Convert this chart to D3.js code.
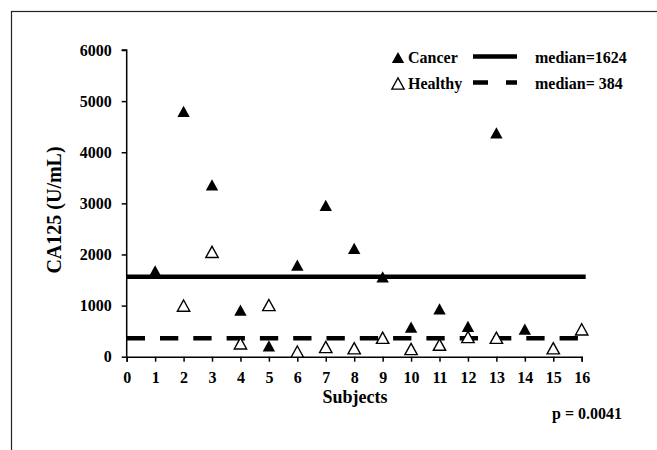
<html>
<head>
<meta charset="utf-8">
<style>
  body { margin: 0; background: white; }
  svg text { font-family: "Liberation Serif", "Times New Roman", serif; font-weight: bold; fill: black; }
</style>
<script src="https://cdn.jsdelivr.net/npm/d3@7"></script>
</head>
<body>
<svg id="chart"></svg>
<script>
// subjects and CA125 values (U/mL)
let cancerSubjects = [1, 2, 3, 4, 5, 6, 7, 8, 9, 10, 11, 12, 13, 14]
let cancerValues = [1680, 4800, 3360, 910, 210, 1790, 2960, 2120, 1560, 580, 935, 595, 4380, 540]
let healthySubjects = [2, 3, 4, 5, 6, 7, 8, 9, 10, 11, 12, 13, 15, 16]
let healthyValues = [1000, 2050, 260, 1010, 100, 190, 165, 370, 150, 235, 385, 370, 165, 535]

// median lines as drawn: level, x start, x end
let medianLevels = [1565, 360]
let medianExtent = [[0, 16.14], [0, 16]]
let legendLabels = ["Cancer", "Healthy"]
let medianLabels = ["median=1624", "median= 384"]

let xTicks = d3.range(0, 17)
let yTicks = [0, 1000, 2000, 3000, 4000, 5000, 6000]

let width = 657, height = 450
let svg = d3.select("#chart").attr("width", width).attr("height", height)

// outer frame (runs off the right and bottom edges)
svg.append("rect")
  .attr("x", 11.5).attr("y", 11.5)
  .attr("width", 700).attr("height", 500)
  .attr("fill", "none").attr("stroke", "#222").attr("stroke-width", 1.2)

let xScale = d3.scaleLinear().domain([0, 16]).range([126.7, 581.7])
let yScale = d3.scaleLinear().domain([0, 6000]).range([356.7, 50])

// triangle marker with its box centred on the point
let tri = {
  draw(ctx, size) {
    let w = 6.2, h = 5.6
    ctx.moveTo(0, -h)
    ctx.lineTo(w, h)
    ctx.lineTo(-w, h)
    ctx.closePath()
  }
}
let triPath = d3.symbol().type(tri)()

// axes
let axisY = d3.axisLeft(yScale).tickValues(yTicks).tickSize(5).tickPadding(10).tickFormat(d3.format("d"))
let gy = svg.append("g").attr("transform", `translate(${xScale(0)},0)`).call(axisY)
let axisX = d3.axisBottom(xScale).tickValues(xTicks).tickSize(5).tickPadding(10)
let gx = svg.append("g").attr("transform", `translate(0,${yScale(0)})`).call(axisX)
for (let g of [gx, gy]) {
  g.selectAll("path, line").attr("stroke", "black").attr("stroke-width", 1.5)
  g.selectAll("text").style("font-size", "16px").attr("fill", "black")
  g.attr("font-family", null)
}
gy.select(".domain").attr("d", `M-5,${yScale(6000)}H0V${yScale(0)}`)

// median lines
let medianStyle = [null, "18.3,15"]
medianLevels.forEach((v, i) => {
  svg.append("line")
    .attr("x1", xScale(medianExtent[i][0])).attr("x2", xScale(medianExtent[i][1]))
    .attr("y1", yScale(v)).attr("y2", yScale(v))
    .attr("stroke", "black").attr("stroke-width", 4.5)
    .attr("stroke-dasharray", medianStyle[i])
})

// points
svg.append("g").selectAll("path")
  .data(healthySubjects.map((s, i) => [s, healthyValues[i]]))
  .enter().append("path")
  .attr("d", triPath)
  .attr("transform", d => `translate(${xScale(d[0])},${yScale(d[1])})`)
  .attr("fill", "white").attr("stroke", "black").attr("stroke-width", 1.4)

svg.append("g").selectAll("path")
  .data(cancerSubjects.map((s, i) => [s, cancerValues[i]]))
  .enter().append("path")
  .attr("d", triPath)
  .attr("transform", d => `translate(${xScale(d[0])},${yScale(d[1])})`)
  .attr("fill", "black")

// axis titles
svg.append("text")
  .attr("transform", "translate(61,210) rotate(-90)")
  .attr("text-anchor", "middle")
  .style("font-size", "20px")
  .text("CA125 (U/mL)")

svg.append("text")
  .attr("x", 355).attr("y", 403)
  .attr("text-anchor", "middle")
  .style("font-size", "18px")
  .text("Subjects")

svg.append("text")
  .attr("x", 552).attr("y", 419)
  .style("font-size", "16px")
  .text("p = 0.0041")

// legend
let legend = svg.append("g")
let rowY = [63, 89]
legendLabels.forEach((label, i) => {
  legend.append("path")
    .attr("d", triPath)
    .attr("transform", `translate(398,${rowY[i] - 5.5})`)
    .attr("fill", i == 0 ? "black" : "white")
    .attr("stroke", "black").attr("stroke-width", i == 0 ? 0 : 1.3)
  legend.append("text")
    .attr("x", 408).attr("y", rowY[i])
    .style("font-size", "16px")
    .text(label)
  legend.append("line")
    .attr("x1", 473).attr("x2", 517)
    .attr("y1", rowY[i] - 6.5).attr("y2", rowY[i] - 6.5)
    .attr("stroke", "black").attr("stroke-width", 4.5)
    .attr("stroke-dasharray", i == 0 ? null : "15,18")
  legend.append("text")
    .attr("x", 535).attr("y", rowY[i])
    .style("font-size", "16px")
    .style("white-space", "pre")
    .text(medianLabels[i])
})
</script>
</body>
</html>
